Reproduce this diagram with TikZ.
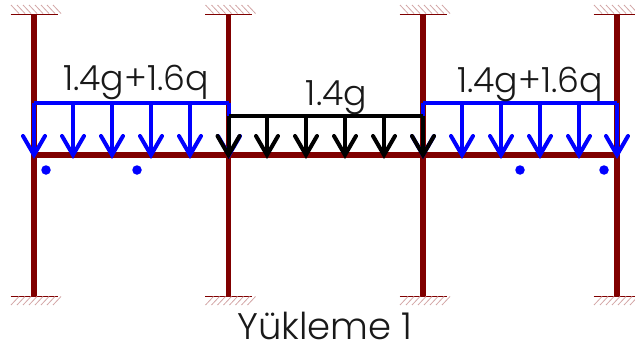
\documentclass[tikz,border=0pt]{standalone}
\usepackage{fontspec}
\setmainfont{Poppins}[UprightFont=*-Light]
\definecolor{frame}{RGB}{128,0,0}
\definecolor{loadblue}{RGB}{0,0,255}
\tikzset{
  member/.style={draw=frame,line width=5.2pt},
  beam/.style={draw=frame,line width=6.5pt},
  baseline/.style={draw=frame,line width=1pt},
  hatchline/.style={draw=frame!35,line width=0.8pt},
  loadline/.style={line width=4pt,line join=miter},
  head/.style={line width=4pt,line join=miter,line cap=round},
  lbl/.style={inner sep=0pt,anchor=base,font=\fontsize{34.7}{35}\selectfont,text=black!90},
  titlelbl/.style={inner sep=0pt,anchor=base,font=\fontsize{37}{37}\selectfont,text=black!90},
  pin/.style={circle,fill=loadblue,inner sep=0pt,minimum size=9.5pt}
}
\newcommand{\loadarrow}[3]{%
  \coordinate (t#1) at (#2,155);
  \coordinate (s#1) at (#2,#3);
  \coordinate (l#1) at (#2-11,136);
  \coordinate (r#1) at (#2+11,136);
}
\begin{document}
\begin{tikzpicture}[x=1pt,y=-1pt]
\useasboundingbox (0,0) rectangle (635,348);
% supports and columns
\foreach \n/\x in {a/34,b/228.5,c/423,d/617}{
  \coordinate (top\n) at (\x,14);
  \coordinate (bot\n) at (\x,296);
  \draw[member] (top\n) -- (bot\n);
  \draw[baseline] (\x-23.5,14) -- (\x+23.5,14);
  \draw[baseline] (\x-23.5,296) -- (\x+23.5,296);
  \foreach \k in {0,1,...,7}{
    \draw[hatchline] (\x-23+\k*6,5) -- (\x-15+\k*6,13.5);
    \draw[hatchline] (\x-23+\k*6,305) -- (\x-15+\k*6,296.5);
  }
}
\draw[beam] (topa |- 0,155) coordinate (beamL) -- (topd |- 0,155) coordinate (beamR);
% blue loads
\begin{scope}[draw=loadblue,loadblue]
\foreach \i/\x in {1/34,2/73,3/112,4/151,5/190,6/229}{
  \loadarrow{\i}{\x}{102.5}
  \draw[loadline] (s\i) -- (t\i);
  \draw[head] (l\i) -- (t\i) -- (r\i);
}
\draw[loadline] (s1) -- (s6);
\foreach \i/\x in {7/423,8/462,9/501,10/540,11/579,12/617}{
  \loadarrow{\i}{\x}{102.5}
  \draw[loadline] (s\i) -- (t\i);
  \draw[head] (l\i) -- (t\i) -- (r\i);
}
\draw[loadline] (s7) -- (s12);
\end{scope}
% black load
\foreach \i/\x in {13/228.5,14/267,15/306,16/345,17/384,18/423}{
  \loadarrow{\i}{\x}{115.5}
  \draw[loadline] (s\i) -- (t\i);
  \draw[head] (l\i) -- (t\i) -- (r\i);
}
\draw[loadline] (s13) -- (s18);
% points
\node[pin] (p1) at (46,170) {};
\node[pin] (p2) at (137,170) {};
\node[pin] (p3) at (520,170) {};
\node[pin] (p4) at (604,170) {};
% labels
\node[lbl] (la) at (136,90) {1.4g+1.6q};
\node[lbl] (lb) at (336.5,105) {1.4g};
\node[lbl] (lc) at (530,92) {1.4g+1.6q};
\node[titlelbl] (ld) at (325,339) {Yükleme 1};
\end{tikzpicture}
\end{document}
